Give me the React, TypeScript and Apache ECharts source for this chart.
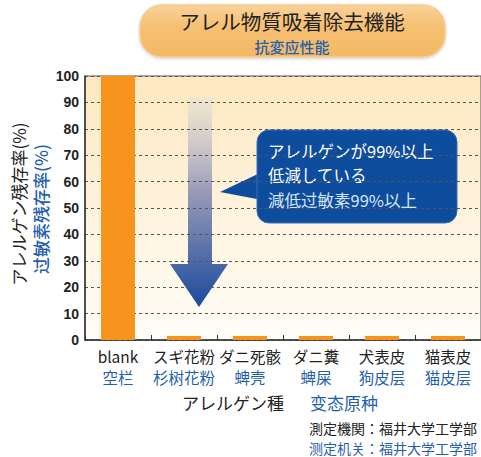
import React, { useEffect, useRef } from "react";
import * as echarts from "echarts";

const categoriesJa = ["blank", "スギ花粉", "ダニ死骸", "ダニ糞", "犬表皮", "猫表皮"];
const categoriesZh = ["空栏", "杉树花粉", "蜱壳", "蜱屎", "狗皮层", "猫皮层"];
const residualRate = [100, 1.5, 1.5, 1.5, 1.5, 1.5];
const yTicks = { min: 0, max: 100, interval: 10 };

const FONT = "Noto Sans CJK JP";
const BLUE = "#1f5fae";

export default function App() {
  const ref = useRef<HTMLDivElement>(null);
  useEffect(() => {
    const chart = echarts.init(ref.current!, null, { renderer: "svg" });
    const txt = (x: number, y: number, text: string, fontSize: number, fill: string, extra: any = {}) => ({
      type: "text",
      x,
      y,
      style: {
        text,
        fontSize,
        lineHeight: fontSize,
        fill,
        fontFamily: FONT,
        verticalAlign: "middle",
        ...extra,
      },
    });
    chart.setOption({
      animation: false,
      textStyle: { fontFamily: FONT },
      grid: {
        left: 85,
        top: 76,
        width: 400,
        height: 264,
        show: true,
        borderColor: "#555",
        borderWidth: 1,
        backgroundColor: new echarts.graphic.LinearGradient(0, 0, 0, 1, [
          { offset: 0, color: "#fde8c0" },
          { offset: 1, color: "#fffdf8" },
        ]),
      },
      xAxis: [
        {
          type: "category",
          data: categoriesJa,
          axisLine: { lineStyle: { color: "#333", width: 1.5 } },
          axisTick: { show: true, inside: true, length: 5, lineStyle: { color: "#333" } },
          axisLabel: {
            margin: 8,
            interval: 0,
            fontSize: 15.5,
            color: "#222",
            fontFamily: FONT,
          },
        },
        {
          type: "category",
          data: categoriesZh,
          position: "bottom",
          offset: 21,
          axisLine: { show: false },
          axisTick: { show: false },
          axisLabel: {
            margin: 8,
            interval: 0,
            fontSize: 15.5,
            color: BLUE,
            fontFamily: FONT,
          },
        },
      ],
      yAxis: {
        type: "value",
        min: yTicks.min,
        max: yTicks.max,
        interval: yTicks.interval,
        axisLine: { show: true, lineStyle: { color: "#333", width: 1.5 } },
        axisTick: { show: false },
        axisLabel: {
          margin: 6,
          fontSize: 14,
          fontWeight: "bold",
          color: "#222",
          fontFamily: "Liberation Sans",
        },
        splitLine: { show: true, lineStyle: { color: "#555", type: [3, 3], width: 1 } },
      },
      series: [
        {
          type: "bar",
          data: residualRate,
          barWidth: 34,
          itemStyle: { color: "#f7941d" },
        },
      ],
      graphic: [
        {
          type: "rect",
          shape: { x: 140, y: 5, width: 305, height: 52, r: 22 },
          style: {
            fill: new echarts.graphic.LinearGradient(0, 0, 0, 1, [
              { offset: 0, color: "#fad29a" },
              { offset: 0.4, color: "#f6c072" },
              { offset: 1, color: "#f4b865" },
            ]),
            stroke: "#f7cc8e",
            lineWidth: 1.5,
            shadowBlur: 3,
            shadowColor: "rgba(0,0,0,0.2)",
            shadowOffsetY: 1,
          },
        },
        txt(292, 21, "アレル物質吸着除去機能", 20.5, "#222", { align: "center" }),
        txt(292, 46.5, "抗変应性能", 15, BLUE, { align: "center", fontWeight: 500 }),
        {
          ...txt(18, 204, "アレルゲン残存率(%)", 17, "#222", { align: "center" }),
          rotation: Math.PI / 2,
        },
        {
          ...txt(40, 209, "过敏素残存率(%)", 17, BLUE, { align: "center", fontWeight: 500 }),
          rotation: Math.PI / 2,
        },
        {
          type: "polygon",
          shape: {
            points: [
              [188, 97],
              [212, 97],
              [212, 264],
              [228, 264],
              [199, 307],
              [170, 264],
              [188, 264],
            ],
          },
          style: {
            fill: new echarts.graphic.LinearGradient(0, 0, 0, 1, [
              { offset: 0, color: "rgba(235,228,215,0.6)" },
              { offset: 0.45, color: "#9a9ab8" },
              { offset: 1, color: "#1a4a9c" },
            ]),
          },
        },
        {
          type: "polygon",
          shape: {
            points: [
              [262, 172],
              [220, 192],
              [262, 200],
            ],
          },
          style: { fill: "#0e4d9e" },
        },
        {
          type: "rect",
          shape: { x: 257, y: 130, width: 200, height: 93, r: 12 },
          style: { fill: "#0e4d9e", stroke: "#3a6fb5", lineWidth: 1 },
        },
        txt(268, 151, "アレルゲンが99%以上", 16.5, "#ffffff"),
        txt(268, 175, "低減している", 16.5, "#ffffff"),
        txt(268, 200, "減低过敏素99%以上", 16.5, "#d6e4f5"),
        txt(233, 402, "アレルゲン種", 17, "#222", { align: "center" }),
        txt(344, 402, "变态原种", 17, BLUE, { align: "center" }),
        txt(309, 428, "測定機関：福井大学工学部", 14, "#222"),
        txt(309, 448, "测定机关：福井大学工学部", 14, BLUE),
      ],
    });
    return () => chart.dispose();
  }, []);
  return <div ref={ref} style={{ width: 481, height: 457, position: "absolute", left: 0, top: 0 }} />;
}
